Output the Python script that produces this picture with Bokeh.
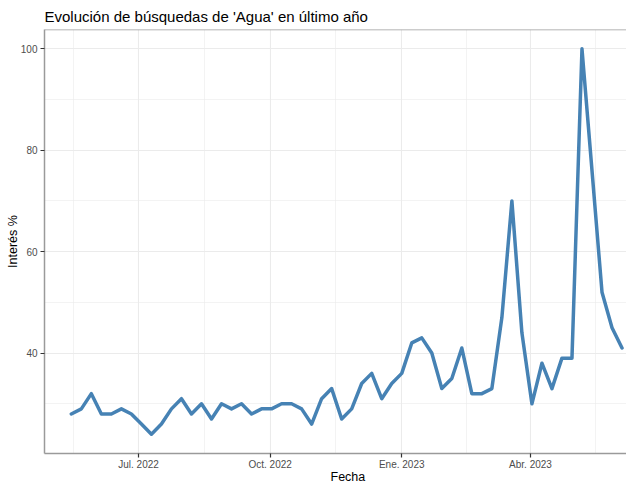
import pandas as pd
from bokeh.plotting import figure
from bokeh.models import Range1d, FixedTicker, Span, Title
from bokeh.embed import file_html
from bokeh.resources import INLINE

# ---- data -------------------------------------------------------------
start_date = "2022-05-15"
interes = [28, 29, 32, 28, 28, 29, 28, 26, 24, 26, 29, 31, 28, 30, 27, 30,
           29, 30, 28, 29, 29, 30, 30, 29, 26, 31, 33, 27, 29, 34, 36, 31,
           34, 36, 42, 43, 40, 33, 35, 41, 32, 32, 33, 47, 70, 44, 30, 38,
           33, 39, 39, 100, 76, 52, 45, 41]
fechas = pd.date_range(start_date, periods=len(interes), freq="7D")

x_break_dates = ["2022-07-01", "2022-10-01", "2023-01-01", "2023-04-01"]
x_break_labels = ["Jul. 2022", "Oct. 2022", "Ene. 2023", "Abr. 2023"]
x_outer_breaks = ["2022-04-01", "2023-07-01"]
y_breaks = [40, 60, 80, 100]
y_minor = [30, 50, 70, 90]

titulo = "Evolución de búsquedas de 'Agua' en último año"
x_titulo = "Fecha"
y_titulo = "Interés %"


def ms(d):
    return float(pd.Timestamp(d).value // 10**6)


major_x = [ms(d) for d in x_break_dates]
all_x = [ms(x_outer_breaks[0])] + major_x + [ms(x_outer_breaks[1])]
minor_x = [(a + b) / 2 for a, b in zip(all_x[:-1], all_x[1:])]

y_lo, y_hi = min(interes), max(interes)
pad = 0.05 * (y_hi - y_lo)
y_start, y_end = y_lo - pad, y_hi + pad

BORDER = "#9a9a9a"
GRID = "#ebebeb"
FONT = "Liberation Sans"

p = figure(width=626, height=482, x_axis_type="datetime",
           output_backend="svg", toolbar_location=None,
           x_range=Range1d(ms("2022-04-26 06:00"), ms("2023-06-07 03:00")),
           y_range=Range1d(y_start, y_end),
           min_border_left=44, min_border_right=0,
           min_border_top=29, min_border_bottom=20)

p.title.text = titulo
p.title.text_font = FONT
p.title.text_font_size = "15px"
p.title.text_font_style = "normal"
p.title.text_color = "#000000"
p.title.align = "left"
p.title.offset = 0
p.title.standoff = 9

p.outline_line_color = None
p.background_fill_color = "white"
p.border_fill_color = "white"

p.line(fechas, interes, line_color="#4682B4", line_width=3.5,
       line_join="round", line_cap="round")

# axes
p.xaxis.ticker = FixedTicker(ticks=major_x, minor_ticks=minor_x)
p.xaxis.major_label_overrides = {t: lab for t, lab in zip(major_x, x_break_labels)}
p.yaxis.ticker = FixedTicker(ticks=y_breaks, minor_ticks=y_minor)

for ax in (p.xaxis[0], p.yaxis[0]):
    ax.axis_line_color = BORDER
    ax.axis_line_width = 1.5
    ax.major_tick_line_color = "#333333"
    ax.major_tick_line_width = 1.2
    ax.major_tick_out = 4
    ax.major_tick_in = 0
    ax.minor_tick_line_color = None
    ax.major_label_text_font = FONT
    ax.major_label_text_font_size = "10px"
    ax.major_label_text_color = "#4d4d4d"
    ax.major_label_standoff = 3
p.xaxis.major_label_standoff = 1

# axis titles as side-panel titles
p.add_layout(Title(text=x_titulo, text_font=FONT, text_font_size="12.5px",
                   text_font_style="normal", text_color="#000000",
                   align="left", offset=286, standoff=-6,
                   vertical_align="top"), "below")
p.add_layout(Title(text=y_titulo, text_font=FONT, text_font_size="12.5px",
                   text_font_style="normal", text_color="#000000",
                   align="center", standoff=-4), "left")

# grids
for g in (p.xgrid[0], p.ygrid[0]):
    g.grid_line_color = GRID
    g.grid_line_width = 1.1
    g.minor_grid_line_color = GRID
    g.minor_grid_line_width = 0.6
p.xgrid.ticker = p.xaxis[0].ticker
p.ygrid.ticker = p.yaxis[0].ticker

# top border of the panel
p.add_layout(Span(location=y_end, dimension="width",
                  line_color=BORDER, line_width=1.5))

open("out.html", "w").write(file_html(p, INLINE))
